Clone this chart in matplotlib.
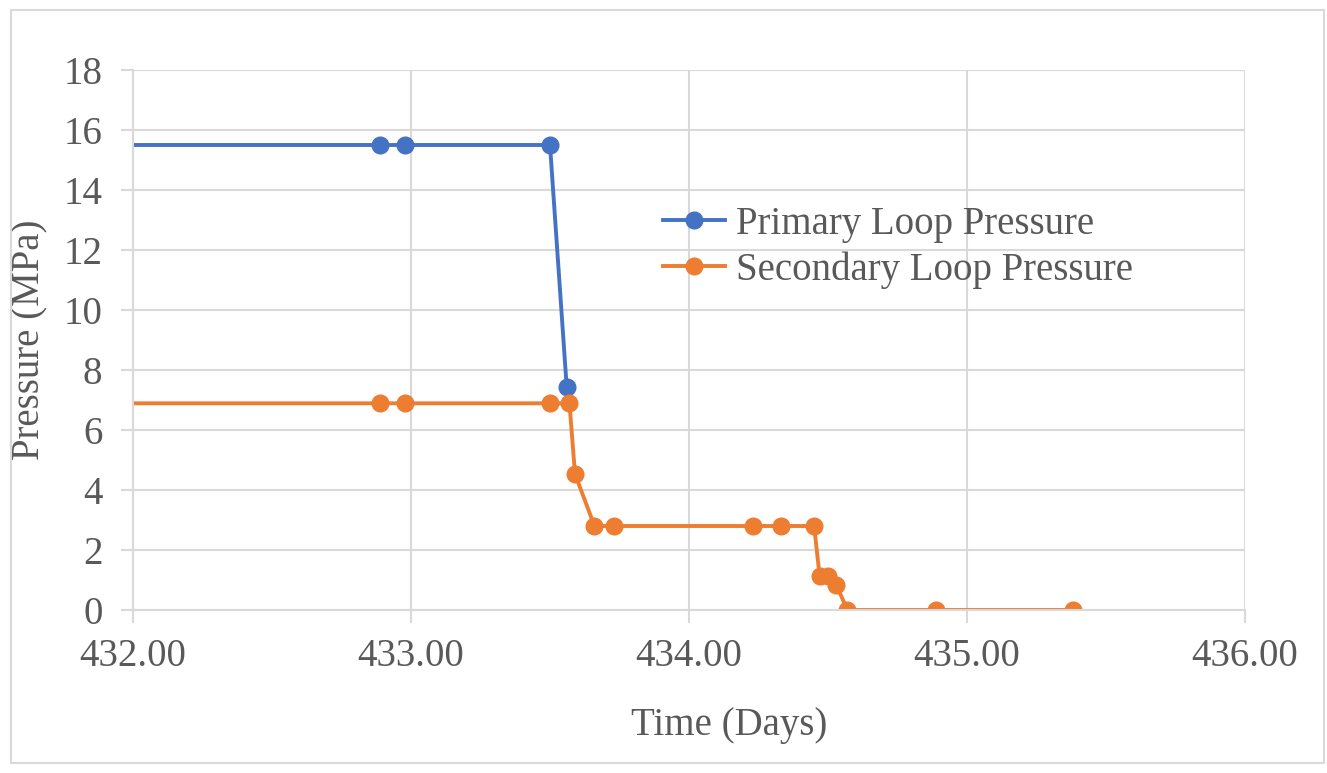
import matplotlib.pyplot as plt
from matplotlib.patches import Rectangle

# Pressure readings (time in days, pressure in MPa)
primary_time = [431.50, 432.89, 432.98, 433.50, 433.56]
primary_pressure = [15.5, 15.5, 15.5, 15.5, 7.44]

secondary_time = [431.50, 432.89, 432.98, 433.50, 433.57, 433.59, 433.66, 433.73,
                  434.23, 434.33, 434.45, 434.47, 434.50, 434.53, 434.57,
                  434.89, 435.38]
secondary_pressure = [6.89, 6.89, 6.89, 6.89, 6.89, 4.53, 2.8, 2.8,
                      2.8, 2.8, 2.8, 1.13, 1.13, 0.83, 0.0,
                      0.0, 0.0]

x_ticks = [432, 433, 434, 435, 436]
y_ticks = list(range(0, 19, 2))

text_color = '#595959'
grid_color = '#d9d9d9'
plt.rcParams['font.family'] = ['Liberation Serif', 'DejaVu Serif']

fig = plt.figure(figsize=(13.27, 7.73), dpi=100)
ax = fig.add_axes([133 / 1327, 1 - 610 / 773, 1112 / 1327, 540 / 773])

# chart border
fig.patches.append(Rectangle((11 / 1327, 1 - 763 / 773), 1313 / 1327, 753 / 773,
                             transform=fig.transFigure, fill=False,
                             edgecolor=grid_color, linewidth=1.5))

ax.plot(primary_time, primary_pressure, color='#4472C4', lw=2.8,
        marker='o', markersize=12, label='Primary Loop Pressure')
ax.plot(secondary_time, secondary_pressure, color='#ED7D31', lw=2.8,
        marker='o', markersize=12, label='Secondary Loop Pressure')

ax.set_xlim(432, 436)
ax.set_ylim(0, 18)
ax.set_xticks(x_ticks)
ax.set_xticklabels([f'{v:.2f}' for v in x_ticks])
ax.set_yticks(y_ticks)

ax.grid(True, color=grid_color, linewidth=1.5)
ax.set_axisbelow(True)
for side in ['top', 'right']:
    ax.spines[side].set_visible(False)
for side in ['left', 'bottom']:
    ax.spines[side].set_color(grid_color)
    ax.spines[side].set_linewidth(1.5)

ax.tick_params(axis='both', colors=grid_color, labelcolor=text_color,
               labelsize=28, length=9, width=1.5)
ax.tick_params(axis='y', pad=13)
ax.tick_params(axis='x', pad=11)

ax.set_xlabel('Time (Days)', fontsize=28, color=text_color, va='center')
ax.set_ylabel('Pressure (MPa)', fontsize=28, color=text_color, va='center')
ax.xaxis.set_label_coords((729 - 133) / 1112, (610 - 725) / 540)
ax.yaxis.set_label_coords((30 - 133) / 1112, 0.5)

ax.legend(loc='upper left', bbox_to_anchor=((647 - 133) / 1112, (610 - 190) / 540),
          frameon=False, fontsize=28, handlelength=1.6, handletextpad=0.3,
          labelspacing=0.22, labelcolor=text_color, borderaxespad=0)

fig.savefig('out.png', dpi=100)
